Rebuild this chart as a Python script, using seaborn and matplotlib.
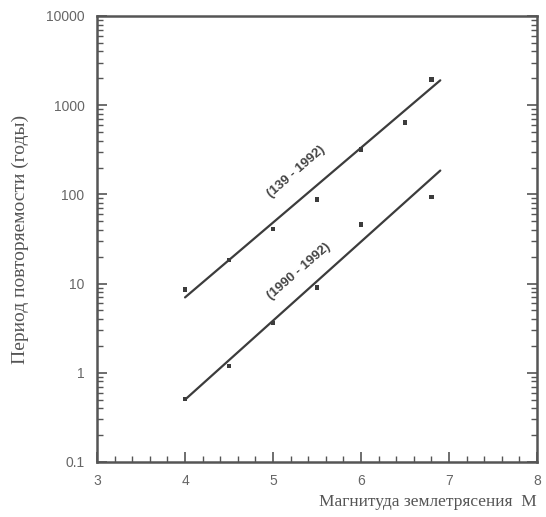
import numpy as np
import pandas as pd
import matplotlib
matplotlib.use("Agg")
import matplotlib.pyplot as plt
from matplotlib.ticker import LogLocator, MultipleLocator, NullFormatter, FixedLocator, FixedFormatter
import seaborn as sns

# Observed recurrence periods (years) by magnitude
mag_long = [4.0, 4.5, 5.0, 5.5, 6.0, 6.5, 6.8]
period_long = [8.6, 18.5, 41, 88, 320, 640, 1950]
mag_short = [4.0, 4.5, 5.0, 5.5, 6.0, 6.8]
period_short = [0.51, 1.2, 3.6, 9.0, 46, 93]

# Fitted recurrence lines (endpoints)
fit_mag = [4.0, 6.9]
fit_long = [7.0, 1900]
fit_short = [0.5, 185]

series_labels = ["(139 - 1992)", "(1990 - 1992)"]
x_ticks = [3, 4, 5, 6, 7, 8]
y_ticks = [0.1, 1, 10, 100, 1000, 10000]
y_tick_labels = ["0.1", "1", "10", "100", "1000", "10000"]

sns.set_style("ticks")
plt.rcParams["font.family"] = ["Liberation Sans", "DejaVu Sans"]

ink = "#3c3c3c"
frame = "#555555"

fig = plt.figure(figsize=(5.46, 5.17), dpi=100)
ax = fig.add_axes([0.1777, 0.1064, 0.806, 0.8627])

pts = pd.concat([
    pd.DataFrame({"M": mag_long, "T": period_long, "s": series_labels[0]}),
    pd.DataFrame({"M": mag_short, "T": period_short, "s": series_labels[1]}),
])
fits = pd.concat([
    pd.DataFrame({"M": fit_mag, "T": fit_long, "s": series_labels[0]}),
    pd.DataFrame({"M": fit_mag, "T": fit_short, "s": series_labels[1]}),
])

sns.lineplot(data=fits, x="M", y="T", units="s", estimator=None,
             color=ink, linewidth=1.6, ax=ax, legend=False)
sns.scatterplot(data=pts, x="M", y="T", color=ink, marker="s", s=10,
                edgecolor="none", ax=ax, legend=False)

ax.set_yscale("log")
ax.set_xlim(3, 8)
ax.set_ylim(0.1, 10000)

ax.xaxis.set_major_locator(FixedLocator(x_ticks))
ax.xaxis.set_minor_locator(MultipleLocator(0.2))
ax.yaxis.set_major_locator(FixedLocator(y_ticks))
ax.yaxis.set_major_formatter(FixedFormatter(y_tick_labels))
ax.yaxis.set_minor_locator(LogLocator(base=10, subs=np.arange(2, 10), numticks=20))
ax.yaxis.set_minor_formatter(NullFormatter())

ax.tick_params(which="both", direction="in", colors=frame, labelcolor="#666666",
               labelsize=10, top=False, right=True, left=True, bottom=True)
ax.tick_params(which="major", length=7, width=1.2, pad=9)
ax.tick_params(which="minor", length=4, width=1.0)

for sp in ax.spines.values():
    sp.set_color(frame)
    sp.set_linewidth(1.8)

ax.set_xlabel("Магнитуда землетрясения  M", family="Liberation Serif",
              fontsize=12.5, color="#555555", loc="right", labelpad=4)
ax.set_ylabel("Период повторяемости (годы)", family="Liberation Serif",
              fontsize=14, color="#555555", labelpad=12)

ax.text(5.26, 178, series_labels[0], rotation=41, ha="center", va="center",
        fontsize=9.5, fontweight="bold", color="#444444")
ax.text(5.30, 13.6, series_labels[1], rotation=41, ha="center", va="center",
        fontsize=9.5, fontweight="bold", color="#444444")

fig.savefig("out.png", dpi=100)
